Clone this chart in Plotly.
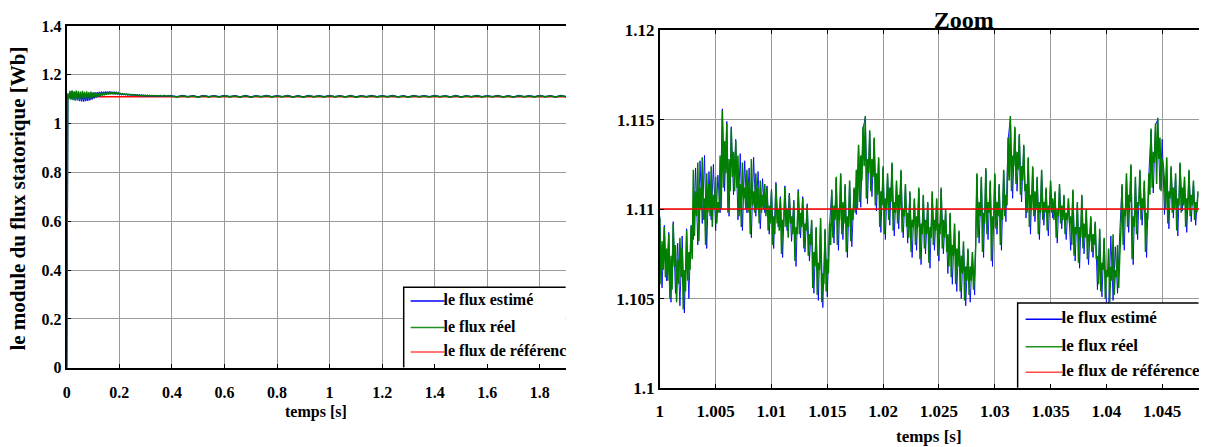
import plotly.graph_objects as go

# ---------------------------------------------------------------- data
# full run: 0 .. 1.9 s
run_span = [0.0, 1.9]
flux_ref = 1.11  # Wb

# start-up part, sampled every 4 ms from t = 0
early_t0, early_dt = 0.0, 0.004
est_early = [
    0.0, 1.120,
    1.104, 1.130, 1.100, 1.132, 1.098, 1.129, 1.096, 1.131, 1.095, 1.128, 1.092, 1.127,
    1.091, 1.126, 1.090, 1.124, 1.092, 1.125, 1.093, 1.124, 1.095, 1.126, 1.098, 1.127,
    1.102, 1.128, 1.106, 1.129, 1.110, 1.130, 1.113, 1.131, 1.116, 1.131, 1.118, 1.132,
    1.120, 1.131, 1.121, 1.131, 1.122, 1.130, 1.122, 1.129, 1.121, 1.128, 1.121, 1.127, 1.120,
    1.123, 1.119, 1.122, 1.119, 1.121, 1.118, 1.121, 1.117, 1.120, 1.117, 1.119, 1.116,
    1.119, 1.116, 1.118, 1.115, 1.118, 1.115, 1.117, 1.114, 1.117, 1.114, 1.116, 1.114, 1.116,
    1.113, 1.116, 1.113, 1.115, 1.113, 1.115, 1.112, 1.115, 1.113, 1.115, 1.112, 1.114,
    1.113, 1.115, 1.112, 1.114, 1.113, 1.115, 1.112, 1.114, 1.113, 1.114, 1.112, 1.115, 1.113,
]
real_early = [
    0.0, 1.125,
    1.100, 1.134, 1.098, 1.136, 1.096, 1.132, 1.094, 1.135, 1.097, 1.133, 1.095, 1.131,
    1.098, 1.134, 1.100, 1.130, 1.099, 1.132, 1.102, 1.129, 1.101, 1.131, 1.104, 1.128,
    1.108, 1.127, 1.110, 1.126, 1.112, 1.128, 1.113, 1.127, 1.115, 1.128, 1.116, 1.129,
    1.118, 1.128, 1.119, 1.129, 1.120, 1.128, 1.121, 1.128, 1.121, 1.127, 1.121, 1.126, 1.120,
    1.124, 1.120, 1.123, 1.119, 1.122, 1.118, 1.121, 1.118, 1.120, 1.117, 1.120, 1.116,
    1.119, 1.116, 1.118, 1.115, 1.118, 1.115, 1.117, 1.115, 1.117, 1.114, 1.117, 1.114, 1.116,
    1.114, 1.116, 1.113, 1.116, 1.113, 1.115, 1.113, 1.115, 1.113, 1.115, 1.112, 1.115,
    1.113, 1.115, 1.112, 1.114, 1.113, 1.115, 1.112, 1.114, 1.113, 1.115, 1.112, 1.114, 1.113,
]

# steady state, sampled every 20 ms from t = 0.4 s
late_t0, late_dt = 0.4, 0.02
est_late = [
    1.113, 1.110, 1.115, 1.110, 1.114, 1.109, 1.115, 1.110, 1.114, 1.110,
    1.115, 1.110, 1.114, 1.109, 1.115, 1.109, 1.114, 1.110, 1.115, 1.110,
    1.114, 1.110, 1.115, 1.109, 1.114, 1.109, 1.115, 1.110, 1.114, 1.110,
    1.115, 1.110, 1.114, 1.109, 1.115, 1.109, 1.114, 1.110, 1.115, 1.110,
    1.114, 1.110, 1.115, 1.109, 1.114, 1.109, 1.115, 1.110, 1.114, 1.110,
    1.115, 1.110, 1.114, 1.109, 1.115, 1.109, 1.114, 1.110, 1.115, 1.110,
    1.114, 1.110, 1.115, 1.109, 1.114, 1.109, 1.115, 1.110, 1.114, 1.110,
    1.115, 1.110, 1.114, 1.109, 1.115, 1.110,
]
real_late = [
    1.113, 1.109, 1.114, 1.110, 1.113, 1.108, 1.114, 1.110, 1.113, 1.109,
    1.114, 1.110, 1.113, 1.109, 1.114, 1.108, 1.113, 1.110, 1.114, 1.109,
    1.113, 1.110, 1.114, 1.109, 1.113, 1.108, 1.114, 1.110, 1.113, 1.109,
    1.114, 1.110, 1.113, 1.109, 1.114, 1.108, 1.113, 1.110, 1.114, 1.109,
    1.113, 1.110, 1.114, 1.109, 1.113, 1.108, 1.114, 1.110, 1.113, 1.109,
    1.114, 1.110, 1.113, 1.109, 1.114, 1.108, 1.113, 1.110, 1.114, 1.109,
    1.113, 1.110, 1.114, 1.109, 1.113, 1.108, 1.114, 1.110, 1.113, 1.109,
    1.114, 1.110, 1.113, 1.109, 1.114, 1.110,
]

# zoom window, t = 1 s .. 1.0483 s
zoom_span = [1.0, 1.0483]
# estimated flux: one sample every 0.2 ms
est_t0, est_dt = 1.0, 0.0002
est_zoom = [
    1.1096, 1.1056, 1.1091, 1.1060, 1.1087, 1.1048, 1.1093, 1.1053, 1.1081, 1.1046, 1.1085, 1.1042, 1.1089, 1.1050, 1.1091,
    1.1083, 1.1123, 1.1080, 1.1127, 1.1092, 1.1130, 1.1078, 1.1121, 1.1094, 1.1125, 1.1088, 1.1119,
    1.1098, 1.1156, 1.1110, 1.1149, 1.1096, 1.1146, 1.1108, 1.1139,
    1.1094, 1.1131, 1.1088, 1.1127, 1.1098, 1.1123, 1.1084, 1.1129, 1.1096, 1.1121, 1.1089, 1.1117, 1.1098,
    1.1113, 1.1086, 1.1111, 1.1078, 1.1115, 1.1090, 1.1107, 1.1073, 1.1113, 1.1088,
    1.1109, 1.1082, 1.1105, 1.1068, 1.1111, 1.1084, 1.1107, 1.1076, 1.1103, 1.1071,
    1.1093, 1.1053, 1.1089, 1.1049, 1.1094, 1.1045, 1.1088, 1.1051, 1.1091,
    1.1110, 1.1081, 1.1117, 1.1077, 1.1119, 1.1083, 1.1113, 1.1073, 1.1115, 1.1079, 1.1111,
    1.1097, 1.1135, 1.1101, 1.1145, 1.1151, 1.1103, 1.1143, 1.1107, 1.1139, 1.1099,
    1.1128, 1.1087, 1.1123, 1.1083, 1.1119, 1.1091, 1.1125, 1.1085, 1.1115, 1.1089, 1.1121, 1.1084, 1.1113,
    1.1081, 1.1109, 1.1073, 1.1105, 1.1077, 1.1111, 1.1069, 1.1107, 1.1075,
    1.1103, 1.1067, 1.1109, 1.1077, 1.1105, 1.1071, 1.1111, 1.1075, 1.1099,
    1.1064, 1.1097, 1.1058, 1.1091, 1.1054, 1.1087, 1.1050, 1.1081, 1.1046, 1.1077, 1.1048, 1.1075, 1.1052,
    1.1119, 1.1081, 1.1117, 1.1073, 1.1122, 1.1083, 1.1115, 1.1068, 1.1119, 1.1086, 1.1113, 1.1077, 1.1121, 1.1093,
    1.1139, 1.1151, 1.1106, 1.1145, 1.1110, 1.1141, 1.1104, 1.1135,
    1.1095, 1.1128, 1.1086, 1.1123, 1.1093, 1.1117, 1.1083, 1.1121, 1.1091, 1.1111,
    1.1085, 1.1115, 1.1095, 1.1109, 1.1081, 1.1113, 1.1089, 1.1107, 1.1083, 1.1105,
    1.1077, 1.1110, 1.1071, 1.1103, 1.1067, 1.1107, 1.1075, 1.1099, 1.1069, 1.1095, 1.1073, 1.1092,
    1.1055, 1.1088, 1.1051, 1.1083, 1.1047, 1.1045, 1.1085, 1.1049, 1.1079, 1.1053, 1.1087,
    1.1113, 1.1077, 1.1119, 1.1087, 1.1124, 1.1069, 1.1117, 1.1083, 1.1121, 1.1091, 1.1115, 1.1073, 1.1119,
    1.1144, 1.1109, 1.1147, 1.1150, 1.1111, 1.1139,
    1.1097, 1.1128, 1.1089, 1.1123, 1.1095, 1.1119, 1.1085, 1.1125, 1.1099, 1.1117, 1.1087, 1.1121, 1.1093, 1.1115, 1.1091, 1.1109,
]
# real flux: one sample every 0.1 ms
real_t0, real_dt = 1.0, 0.0001
real_zoom = [
    1.1095, 1.1058, 1.1082, 1.1066, 1.1090, 1.1062, 1.1078, 1.1060, 1.1086, 1.1050,
    1.1074, 1.1055, 1.1092, 1.1068, 1.1080, 1.1048, 1.1072, 1.1058, 1.1084, 1.1062,
    1.1078, 1.1044, 1.1066, 1.1054, 1.1088, 1.1060, 1.1076, 1.1066, 1.1090, 1.1072,
    1.1122, 1.1085, 1.1110, 1.1096, 1.1126, 1.1082, 1.1112, 1.1100, 1.1129, 1.1094,
    1.1106, 1.1080, 1.1120, 1.1098, 1.1114, 1.1096, 1.1124, 1.1090, 1.1108, 1.1100,
    1.1118, 1.1092, 1.1104, 1.1098,
    1.1130, 1.1100, 1.1155, 1.1112, 1.1138, 1.1120, 1.1148, 1.1098, 1.1128, 1.1110,
    1.1145, 1.1118, 1.1132, 1.1110, 1.1138, 1.1112,
    1.1130, 1.1096, 1.1114, 1.1090, 1.1126, 1.1106, 1.1112, 1.1100, 1.1122, 1.1098,
    1.1116, 1.1086, 1.1128, 1.1102, 1.1110, 1.1098, 1.1120, 1.1100, 1.1112, 1.1092,
    1.1116, 1.1098, 1.1108, 1.1100, 1.1114, 1.1096,
    1.1112, 1.1088, 1.1102, 1.1092, 1.1110, 1.1080, 1.1096, 1.1086, 1.1114, 1.1092,
    1.1100, 1.1088, 1.1106, 1.1075, 1.1094, 1.1090, 1.1112, 1.1090, 1.1100, 1.1084,
    1.1108, 1.1092, 1.1096, 1.1086, 1.1104, 1.1071, 1.1090, 1.1086, 1.1110, 1.1086,
    1.1098, 1.1090, 1.1106, 1.1078, 1.1092, 1.1088, 1.1102, 1.1074, 1.1086, 1.1080,
    1.1094, 1.1056, 1.1076, 1.1068, 1.1090, 1.1052, 1.1070, 1.1066, 1.1095, 1.1048,
    1.1064, 1.1058, 1.1089, 1.1054, 1.1072, 1.1064, 1.1092, 1.1080,
    1.1111, 1.1084, 1.1102, 1.1094, 1.1118, 1.1080, 1.1100, 1.1094, 1.1120, 1.1086,
    1.1104, 1.1092, 1.1114, 1.1076, 1.1096, 1.1090, 1.1116, 1.1082, 1.1100, 1.1094,
    1.1112, 1.1098,
    1.1122, 1.1100, 1.1136, 1.1104, 1.1130, 1.1116, 1.1146, 1.1124, 1.1152, 1.1106,
    1.1128, 1.1120, 1.1144, 1.1110, 1.1128, 1.1118, 1.1140, 1.1102, 1.1120, 1.1108,
    1.1129, 1.1090, 1.1110, 1.1102, 1.1124, 1.1086, 1.1106, 1.1100, 1.1120, 1.1094,
    1.1112, 1.1104, 1.1126, 1.1088, 1.1104, 1.1098, 1.1116, 1.1092, 1.1108, 1.1100,
    1.1122, 1.1087, 1.1100, 1.1096, 1.1114, 1.1090,
    1.1098, 1.1084, 1.1110, 1.1076, 1.1094, 1.1090, 1.1106, 1.1080, 1.1096, 1.1090,
    1.1112, 1.1072, 1.1092, 1.1086, 1.1108, 1.1078, 1.1094, 1.1086, 1.1104, 1.1070,
    1.1090, 1.1084, 1.1110, 1.1080, 1.1094, 1.1088, 1.1106, 1.1074, 1.1092, 1.1086,
    1.1112, 1.1078, 1.1094, 1.1084, 1.1100, 1.1076,
    1.1086, 1.1068, 1.1098, 1.1062, 1.1080, 1.1074, 1.1092, 1.1058, 1.1078, 1.1068,
    1.1088, 1.1054, 1.1074, 1.1064, 1.1082, 1.1049, 1.1068, 1.1060, 1.1078, 1.1052,
    1.1068, 1.1060, 1.1076, 1.1055, 1.1064, 1.1080,
    1.1120, 1.1084, 1.1104, 1.1096, 1.1118, 1.1076, 1.1098, 1.1092, 1.1123, 1.1086,
    1.1104, 1.1098, 1.1116, 1.1071, 1.1096, 1.1090, 1.1120, 1.1089, 1.1104, 1.1096,
    1.1114, 1.1080, 1.1100, 1.1094, 1.1122, 1.1096, 1.1108, 1.1102,
    1.1140, 1.1116, 1.1152, 1.1110, 1.1130, 1.1124, 1.1146, 1.1114, 1.1132, 1.1122,
    1.1142, 1.1108, 1.1124, 1.1116, 1.1136, 1.1110,
    1.1114, 1.1098, 1.1129, 1.1090, 1.1108, 1.1100, 1.1124, 1.1096, 1.1110, 1.1100,
    1.1118, 1.1086, 1.1104, 1.1098, 1.1122, 1.1094, 1.1104, 1.1098, 1.1112, 1.1088,
    1.1102, 1.1098, 1.1116, 1.1098, 1.1106, 1.1094, 1.1110, 1.1084, 1.1100, 1.1096,
    1.1114, 1.1092, 1.1102, 1.1094, 1.1108, 1.1086, 1.1098, 1.1094, 1.1106, 1.1092,
    1.1096, 1.1080, 1.1111, 1.1074, 1.1090, 1.1086, 1.1104, 1.1070, 1.1090, 1.1084,
    1.1108, 1.1078, 1.1092, 1.1084, 1.1100, 1.1072, 1.1086, 1.1082, 1.1096, 1.1076,
    1.1086, 1.1080, 1.1093, 1.1072,
    1.1074, 1.1058, 1.1089, 1.1054, 1.1070, 1.1066, 1.1084, 1.1050, 1.1066, 1.1062,
    1.1078, 1.1048, 1.1068, 1.1060, 1.1086, 1.1052, 1.1066, 1.1062, 1.1080, 1.1056,
    1.1074, 1.1088,
    1.1114, 1.1080, 1.1100, 1.1096, 1.1120, 1.1090, 1.1108, 1.1104, 1.1125, 1.1072,
    1.1096, 1.1090, 1.1118, 1.1086, 1.1104, 1.1102, 1.1122, 1.1094, 1.1106, 1.1100,
    1.1116, 1.1076, 1.1098, 1.1094, 1.1120, 1.1108,
    1.1145, 1.1112, 1.1132, 1.1126, 1.1148, 1.1114, 1.1151, 1.1128, 1.1140, 1.1110,
    1.1128, 1.1124,
    1.1116, 1.1100, 1.1129, 1.1092, 1.1110, 1.1106, 1.1124, 1.1098, 1.1112, 1.1100,
    1.1120, 1.1088, 1.1106, 1.1102, 1.1126, 1.1098, 1.1112, 1.1102, 1.1118, 1.1090,
    1.1106, 1.1100, 1.1122, 1.1096, 1.1108, 1.1102, 1.1116, 1.1094, 1.1104, 1.1098,
    1.1110,
]

# ticks and labels
left_xticks = [0, 0.2, 0.4, 0.6, 0.8, 1.0, 1.2, 1.4, 1.6, 1.8]
left_xlabels = ["0", "0.2", "0.4", "0.6", "0.8", "1", "1.2", "1.4", "1.6", "1.8"]
left_yticks = [0, 0.2, 0.4, 0.6, 0.8, 1.0, 1.2, 1.4]
left_ylabels = ["0", "0.2", "0.4", "0.6", "0.8", "1", "1.2", "1.4"]
zoom_xticks = [1.0, 1.005, 1.01, 1.015, 1.02, 1.025, 1.03, 1.035, 1.04, 1.045]
zoom_xlabels = ["1", "1.005", "1.01", "1.015", "1.02", "1.025", "1.03", "1.035", "1.04", "1.045"]
zoom_yticks = [1.1, 1.105, 1.11, 1.115, 1.12]
zoom_ylabels = ["1.1", "1.105", "1.11", "1.115", "1.12"]

legend_labels = ["le flux estimé", "le flux réel", "le flux de référence"]
x_title = "temps [s]"
y_title = "le module du flux statorique [Wb]"
zoom_title = "Zoom"

# ---------------------------------------------------------------- style
W, H = 1213, 447
SERIF = "Liberation Serif, Times New Roman, serif"
C_EST, C_REAL, C_REF = "#0000ff", "#007f00", "#ff0000"
LEG_COLORS = ["#0000ff", "#1f8f1f", "#ff4a4a"]
GRID = "#9a9a9a"

fig = go.Figure()

# ---- left panel: whole run
fig.add_trace(go.Scatter(x=run_span, y=[flux_ref, flux_ref], mode="lines",
                         line=dict(color=C_REF, width=1.3), xaxis="x", yaxis="y"))
for vals, x0, dx in [(est_early, early_t0, early_dt), (est_late, late_t0, late_dt)]:
    fig.add_trace(go.Scatter(y=vals, x0=x0, dx=dx, mode="lines",
                             line=dict(color=C_EST, width=1.3), xaxis="x", yaxis="y"))
for vals, x0, dx in [(real_early, early_t0, early_dt), (real_late, late_t0, late_dt)]:
    fig.add_trace(go.Scatter(y=vals, x0=x0, dx=dx, mode="lines",
                             line=dict(color=C_REAL, width=1.3), xaxis="x", yaxis="y"))

# ---- right panel: zoom
fig.add_trace(go.Scatter(y=est_zoom, x0=est_t0, dx=est_dt, mode="lines",
                         line=dict(color=C_EST, width=0.9), xaxis="x2", yaxis="y2"))
fig.add_trace(go.Scatter(y=real_zoom, x0=real_t0, dx=real_dt, mode="lines",
                         line=dict(color=C_REAL, width=1.5), xaxis="x2", yaxis="y2"))
fig.add_trace(go.Scatter(x=zoom_span, y=[flux_ref, flux_ref], mode="lines",
                         line=dict(color=C_REF, width=1.5), xaxis="x2", yaxis="y2"))


# ---- legend boxes, drawn on overlay axes spanning each panel (0..1)
def add_legend(xa, ya, box_left, box_top, rows, line_x, text_x, size):
    # white background (no outline), then the top and left border
    fig.add_trace(go.Scatter(x=[box_left, box_left, 0.999, 0.999, box_left],
                             y=[0.001, box_top, box_top, 0.001, 0.001],
                             mode="lines", fill="toself", fillcolor="white",
                             line=dict(color="white", width=0),
                             xaxis=xa, yaxis=ya))
    fig.add_trace(go.Scatter(x=[0.999, box_left, box_left], y=[box_top, box_top, 0.001],
                             mode="lines", line=dict(color="black", width=1.5),
                             xaxis=xa, yaxis=ya))
    for r, col in zip(rows, LEG_COLORS):
        fig.add_trace(go.Scatter(x=line_x, y=[r, r], mode="lines",
                                 line=dict(color=col, width=1.5),
                                 xaxis=xa, yaxis=ya))
    fig.add_trace(go.Scatter(x=[text_x] * 3, y=rows, mode="text", text=legend_labels,
                             textposition="middle right", cliponaxis=True,
                             textfont=dict(family=SERIF, size=size, color="black", weight="bold"),
                             xaxis=xa, yaxis=ya))


add_legend("x3", "y3", 0.6747, 0.2353, [0.1952, 0.1176, 0.0459], [0.6886, 0.7565], 0.7545, 16)
add_legend("x4", "y4", 0.6636, 0.238, [0.1925, 0.1158, 0.0447], [0.6784, 0.7468], 0.7450, 17)

# ---- "Zoom" title, clipped by the top of the right panel
fig.add_trace(go.Scatter(x=[0.5638], y=[0.40], mode="text", text=[zoom_title],
                         textposition="middle center", cliponaxis=True,
                         textfont=dict(family=SERIF, size=24, color="black", weight="bold"),
                         xaxis="x5", yaxis="y5"))

tick_font_l = dict(family=SERIF, size=16, color="black", weight="bold")
tick_font_r = dict(family=SERIF, size=17, color="black", weight="bold")
common = dict(showgrid=True, gridcolor=GRID, gridwidth=1, zeroline=False,
              showline=True, linecolor="black", linewidth=2,
              ticks="inside", ticklen=4, tickcolor="black", tickwidth=1)
hidden = dict(range=[0, 1], visible=False, showgrid=False, zeroline=False, showline=False)

L = [63 / W, 564 / W]
LY = [(H - 374.7) / H, (H - 17.7) / H]
R = [658 / W, 1199 / W]
RY = [(H - 396) / H, (H - 22) / H]

fig.update_layout(
    width=W, height=H, autosize=False,
    margin=dict(l=0, r=0, t=0, b=0, pad=0),
    paper_bgcolor="white", plot_bgcolor="white",
    showlegend=False,
    xaxis=dict(domain=L, anchor="y", range=[0, 1.9], tickvals=left_xticks, ticktext=left_xlabels,
               mirror="ticks", tickfont=tick_font_l, ticklabelstandoff=9, **common),
    yaxis=dict(domain=LY, anchor="x", range=[0, 1.4], tickvals=left_yticks, ticktext=left_ylabels,
               tickfont=tick_font_l, layer="below traces", mirror=False, **common),
    xaxis2=dict(domain=R, anchor="y2", range=zoom_span, tickvals=zoom_xticks, ticktext=zoom_xlabels,
                mirror="ticks", tickfont=tick_font_r, ticklabelstandoff=6, **common),
    yaxis2=dict(domain=RY, anchor="x2", range=[1.1, 1.12], tickvals=zoom_yticks, ticktext=zoom_ylabels,
                tickfont=tick_font_r, mirror=False, **common),
    xaxis3=dict(overlaying="x", anchor="y3", **hidden),
    yaxis3=dict(overlaying="y", anchor="x3", **hidden),
    xaxis4=dict(overlaying="x2", anchor="y4", **hidden),
    yaxis4=dict(overlaying="y2", anchor="x4", **hidden),
    xaxis5=dict(domain=R, anchor="y5", **hidden),
    yaxis5=dict(domain=[(H - 22) / H, 1], anchor="x5", **hidden),
    annotations=[
        dict(text=x_title, x=313 / W, y=(H - 421) / H, xref="paper", yref="paper",
             xanchor="center", yanchor="middle", showarrow=False,
             font=dict(family=SERIF, size=16, color="black", weight="bold")),
        dict(text=x_title, x=928 / W, y=(H - 446) / H, xref="paper", yref="paper",
             xanchor="center", yanchor="middle", showarrow=False,
             font=dict(family=SERIF, size=17, color="black", weight="bold")),
        dict(text=y_title, x=14 / W, y=(H - 198) / H, xref="paper", yref="paper",
             xanchor="center", yanchor="middle", showarrow=False, textangle=-90,
             font=dict(family=SERIF, size=21, color="black", weight="bold")),
    ],
)

fig.write_html("out.html")
